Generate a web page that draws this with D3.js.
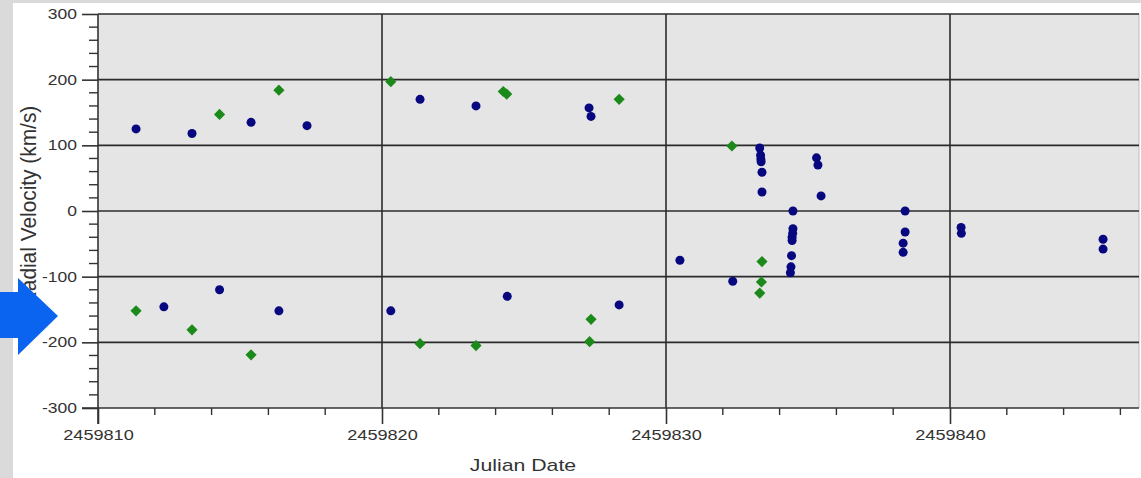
<!DOCTYPE html>
<html>
<head>
<meta charset="utf-8">
<script src="https://cdn.jsdelivr.net/npm/d3@7"></script>
<style>
  html, body { margin: 0; padding: 0; background: #ffffff; }
  svg { display: block; }
  text { font-family: Arial, "Liberation Sans", sans-serif; }
</style>
</head>
<body>
<svg id="chart" width="1141" height="478"></svg>
<script>
// ---- data ----
const circleJD = [2459811.34, 2459813.31, 2459815.39, 2459817.36, 2459821.34, 2459823.31, 2459827.29, 2459827.36,
  2459812.32, 2459814.28, 2459816.37, 2459820.31, 2459824.41, 2459828.35, 2459830.49, 2459832.35,
  2459833.30, 2459833.33, 2459833.34, 2459833.35, 2459833.38, 2459833.38,
  2459834.47, 2459834.47, 2459834.46, 2459834.44, 2459834.44, 2459834.42, 2459834.40, 2459834.38,
  2459835.30, 2459835.35, 2459835.46,
  2459838.42, 2459838.42, 2459838.35, 2459838.35,
  2459840.39, 2459840.40,
  2459845.39, 2459845.39];
const circleRV = [125, 118, 135, 130, 170, 160, 157, 144,
  -146, -120, -152, -152, -130, -143, -75, -107,
  96, 85, 79, 75, 59, 29,
  0, -27, -34, -40, -45, -68, -85, -94,
  81, 70, 23,
  0, -32, -49, -63,
  -25, -34,
  -43, -58];
const diamondJD = [2459811.34, 2459813.31, 2459814.28, 2459815.39, 2459816.37, 2459820.31, 2459821.34, 2459823.31,
  2459824.27, 2459824.39, 2459827.36, 2459827.31, 2459828.35, 2459832.32, 2459833.38, 2459833.36, 2459833.30];
const diamondRV = [-152, -181, 147, -219, 184, 197, -202, -205,
  182, 178, -165, -199, 170, 99, -77, -108, -125];
const xTicks = [2459810, 2459820, 2459830, 2459840];
const yTicks = [-300, -200, -100, 0, 100, 200, 300];
const xTitle = "Julian Date";
const yTitle = "Radial Velocity (km/s)";

// ---- layout ----
const svg = d3.select("#chart");
const L = 98, R = 1139, T = 14, B = 408;
const SX = 1.25; // horizontal stretch of the text in the reference
const x = d3.scaleLinear().domain([2459810, 2459810 + (R - L) / 28.4]).range([L, R]);
const y = d3.scaleLinear().domain([-300, 300]).range([B, T]);

// plot background
svg.append("rect").attr("x", L).attr("y", T).attr("width", R - L).attr("height", B - T)
  .attr("fill", "#e5e5e5");
svg.append("line").attr("x1", R).attr("x2", R).attr("y1", T).attr("y2", B)
  .attr("stroke", "#bdbdbd").attr("stroke-width", 1);

// gridlines
const grid = svg.append("g");
grid.selectAll("line.h").data(yTicks.filter(d => d !== -300)).enter().append("line")
  .attr("x1", L).attr("x2", R).attr("y1", d => y(d)).attr("y2", d => y(d))
  .attr("stroke", "#2b2b2b").attr("stroke-width", 1.6);
grid.selectAll("line.v").data(xTicks.filter(d => d !== 2459810)).enter().append("line")
  .attr("y1", T).attr("y2", B).attr("x1", d => x(d)).attr("x2", d => x(d))
  .attr("stroke", "#2b2b2b").attr("stroke-width", 1.6);

// y axis
const yAxis = d3.axisLeft(y).tickValues(yTicks).tickSize(16).tickPadding(5).tickFormat(d => String(d));
const gy = svg.append("g").attr("transform", `translate(${L},0)`).call(yAxis);
gy.select(".domain").remove();
const yMinor = d3.range(-300, 301, 20).filter(d => d % 100 !== 0);
gy.selectAll("line.minor").data(yMinor).enter().append("line").attr("class", "minor")
  .attr("x1", -9).attr("x2", 0).attr("y1", d => y(d)).attr("y2", d => y(d))
  .attr("stroke", "#333").attr("stroke-width", 1.4);
gy.append("line").attr("x1", 0).attr("x2", 0).attr("y1", T).attr("y2", B + 16)
  .attr("stroke", "#333").attr("stroke-width", 1.6);

// x axis
const xAxis = d3.axisBottom(x).tickValues(xTicks).tickSize(16).tickPadding(6).tickFormat(d => String(d));
const gx = svg.append("g").attr("transform", `translate(0,${B})`).call(xAxis);
gx.select(".domain").remove();
const xMinor = d3.range(2459812, 2459847, 2).filter(d => d % 10 !== 0);
gx.selectAll("line.minor").data(xMinor).enter().append("line").attr("class", "minor")
  .attr("y1", 0).attr("y2", 7).attr("x1", d => x(d)).attr("x2", d => x(d))
  .attr("stroke", "#333").attr("stroke-width", 1.4);
gx.append("line").attr("x1", L - 16).attr("x2", R).attr("y1", 0).attr("y2", 0)
  .attr("stroke", "#333").attr("stroke-width", 1.6);

[gx, gy].forEach(g => {
  g.selectAll(".tick line").attr("stroke", "#333").attr("stroke-width", 1.6);
  g.selectAll(".tick text").attr("fill", "#333")
    .style("font-family", "Arial, 'Liberation Sans', sans-serif");
});
gy.selectAll(".tick text").style("font-size", "14px")
  .attr("x", -21 / SX).attr("transform", `scale(${SX},1)`);
gx.selectAll(".tick text").style("font-size", "14.5px")
  .attr("transform", `scale(${SX},1)`);

// axis titles
svg.append("text").attr("transform", `translate(523,471) scale(${SX},1)`).attr("text-anchor", "middle")
  .attr("fill", "#333").style("font-size", "17px").text(xTitle);
svg.append("text").attr("transform", `translate(36,206) rotate(-90) scale(1.16,1.25)`).attr("text-anchor", "middle")
  .attr("fill", "#333").style("font-size", "18px").text(yTitle);

// data marks
const circles = circleJD.map((d, i) => ({ jd: d, rv: circleRV[i] }));
const diamonds = diamondJD.map((d, i) => ({ jd: d, rv: diamondRV[i] }));
const plot = svg.append("g");
plot.selectAll("path.diamond").data(diamonds).enter().append("path")
  .attr("d", d3.symbol().type(d3.symbolDiamond2).size(80))
  .attr("transform", d => `translate(${x(d.jd)},${y(d.rv)})`)
  .attr("fill", "#1b8a1b");
plot.selectAll("circle").data(circles).enter().append("circle")
  .attr("cx", d => x(d.jd)).attr("cy", d => y(d.rv)).attr("r", 4.5)
  .attr("fill", "#070780");

// outer gray frame (left & top strips)
svg.append("rect").attr("x", 0).attr("y", 0).attr("width", 13).attr("height", 478).attr("fill", "#dadada");
svg.append("rect").attr("x", 0).attr("y", 0).attr("width", 1141).attr("height", 3).attr("fill", "#dadada");

// blue arrow
const arrow = d3.path();
arrow.moveTo(0, 292); arrow.lineTo(18, 292); arrow.lineTo(18, 278); arrow.lineTo(58, 316);
arrow.lineTo(18, 355); arrow.lineTo(18, 338); arrow.lineTo(0, 338); arrow.closePath();
svg.append("path").attr("d", arrow.toString()).attr("fill", "#0a64f0");
</script>
</body>
</html>
